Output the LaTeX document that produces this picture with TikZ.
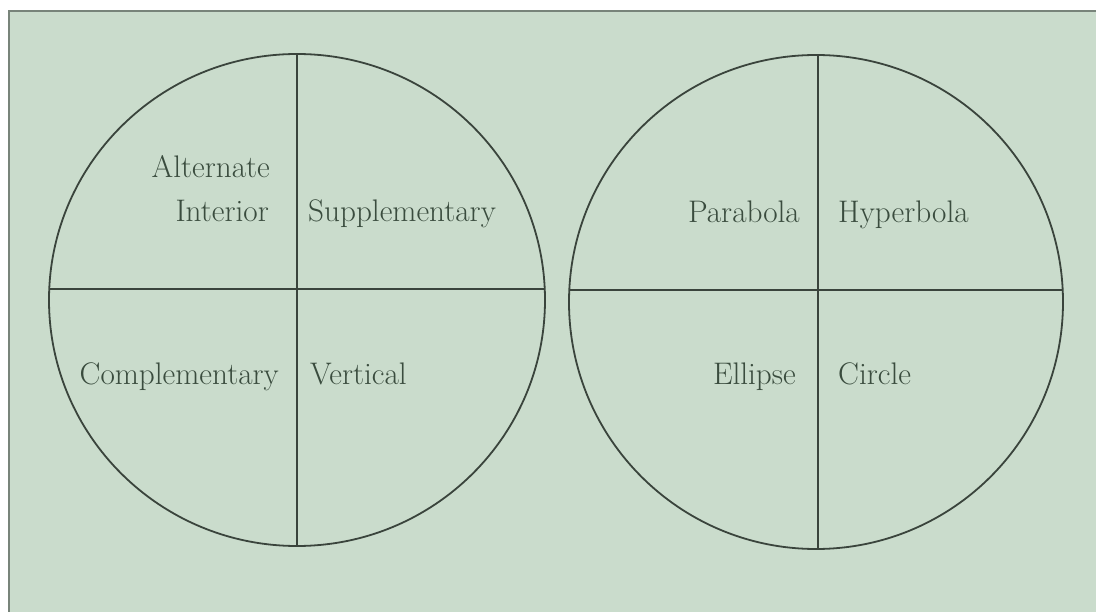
\documentclass[tikz,border=0pt]{standalone}
\usepackage{tikz}
\usepackage{xcolor}
\definecolor{bggreen}{RGB}{202,220,204}
\definecolor{ink}{RGB}{58,68,60}
\definecolor{txtink}{RGB}{58,76,62}
\definecolor{frame}{RGB}{120,132,122}

\begin{document}
\begin{tikzpicture}[x=1pt,y=-1pt,
  rim/.style={ink,line width=1.8pt},
  cut/.style={ink,line width=1.6pt},
  lbl/.style={inner sep=0pt,text=txtink,font=\fontsize{31.2}{36}\selectfont}]
\useasboundingbox (0,0) rectangle (1096,612);
% grund
\fill[white] (0,0) rectangle (1096,612);
\fill[bggreen] (9,11) rectangle (1100,620);
\draw[frame,line width=1.5pt] (9,620)--(9,11)--(1100,11);
% winkel
\draw[rim] (297,300) ellipse [x radius=248,y radius=246];
\draw[cut] (297,54)--(297,546);
\draw[cut] (49,289)--(545,289);
\node[lbl,anchor=base east] (alt) at (270,178) {Alternate};
\node[lbl,anchor=base east] (int) at (269,222) {Interior};
\node[lbl,anchor=base west] (sup) at (308,222) {Supplementary};
\node[lbl,anchor=base east] (com) at (279,385) {Complementary};
\node[lbl,anchor=base west] (ver) at (310,385) {Vertical};
% kegelschnitte
\draw[rim] (816,302) ellipse [x radius=247,y radius=247];
\draw[cut] (818,55)--(818,549);
\draw[cut] (569,290)--(1063,290);
\node[lbl,anchor=base east] (par) at (800,223) {Parabola};
\node[lbl,anchor=base west] (hyp) at (838,223) {Hyperbola};
\node[lbl,anchor=base east] (ell) at (796,385) {Ellipse};
\node[lbl,anchor=base west] (cir) at (838,385) {Circle};
\end{tikzpicture}
\end{document}
